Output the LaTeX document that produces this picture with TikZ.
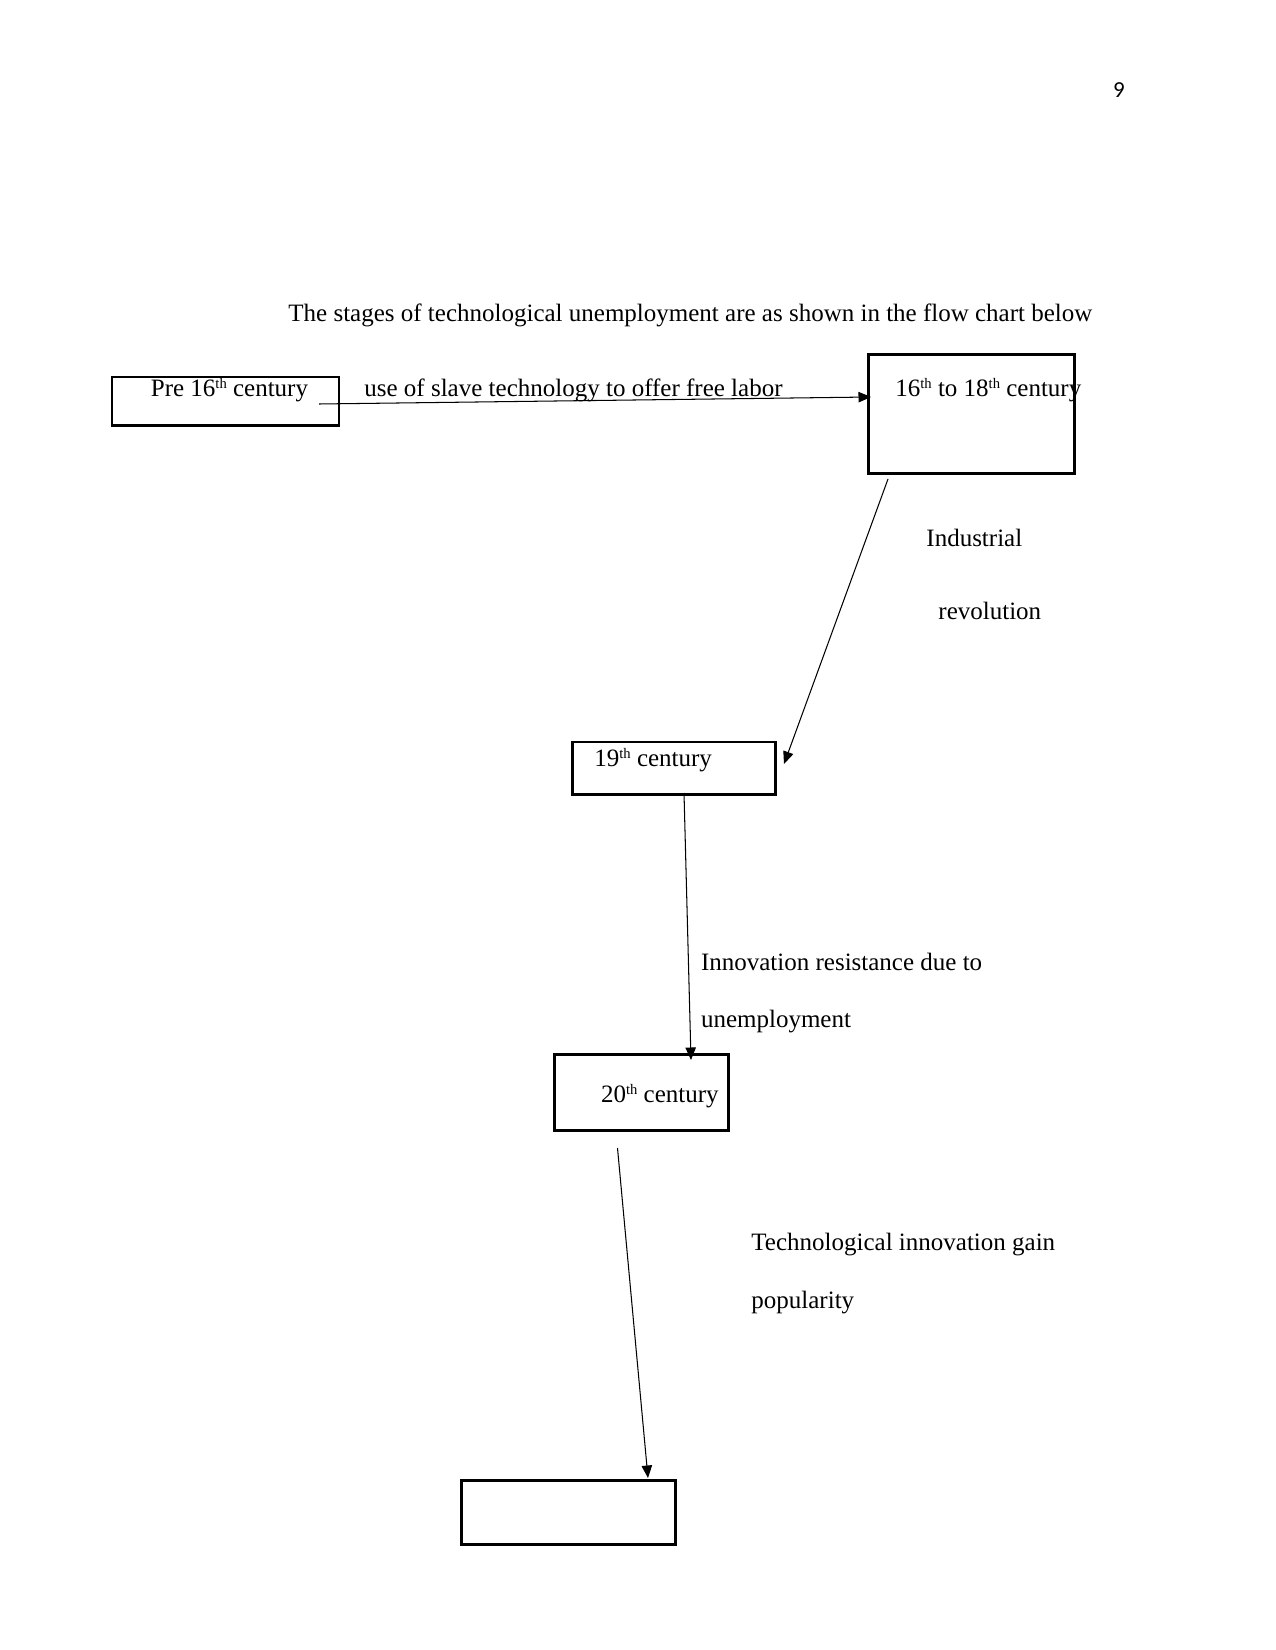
\documentclass[tikz,border=0pt]{standalone}
\usepackage{fontspec}
\setmainfont{Liberation Serif}
\newfontfamily\pgnumfont{Carlito}
\usetikzlibrary{arrows.meta}
\newcommand{\supth}{\raisebox{4pt}{\fontsize{7}{8}\selectfont th}}
\begin{document}
\begin{tikzpicture}[x=0.48pt,y=-0.48pt,
  box/.style 2 args={draw,line width=1.3pt,inner sep=0pt,anchor=north west,
    minimum width={#1*0.48pt},minimum height={#2*0.48pt}},
  lbl/.style={anchor=base west,inner sep=0pt,font=\fontsize{12}{14}\selectfont},
  conn/.style={line width=0.5pt,-{Triangle[length=6pt,width=5pt]}}]
\useasboundingbox[fill=white] (0,0) rectangle (1275,1650);
\node[inner sep=0pt,font=\pgnumfont\fontsize{11}{13}\selectfont] (pg) at (1119,90) {9};
\node[lbl] (title) at (288,321.5) {The stages of technological unemployment are as shown in the flow chart below};
% boxes
\node[box={227}{48.5}] (A) at (110.5,375.6) {};
\node[box={206}{118.5}] (B) at (867,353.5) {};
\node[box={203}{52.5}] (C) at (571,740.6) {};
\node[box={174}{76}] (D) at (553,1053) {};
\node[box={214}{64}] (E) at (460,1479) {};
% box texts
\node[lbl] (At) at (150.5,396.5) {Pre 16\supth{} century};
\node[lbl] (Bt) at (895,396.5) {16\supth{} to 18\supth{} century};
\node[lbl] (Ct) at (594,766.5) {19\supth{} century};
\node[lbl] (Dt) at (600.7,1102.5) {20\supth{} century};
% connector labels
\node[lbl] (l1) at (364,396.5) {use of slave technology to offer free labor};
\node[lbl] (l2a) at (926,546) {Industrial};
\node[lbl] (l2b) at (938,619.5) {revolution};
\node[lbl] (l3a) at (700.6,970) {Innovation resistance due to};
\node[lbl] (l3b) at (700.6,1027.5) {unemployment};
\node[lbl] (l4a) at (751,1250.5) {Technological innovation gain};
\node[lbl] (l4b) at (751,1308.5) {popularity};
% connector ends
\coordinate (a1) at (319,404);
\coordinate (b1) at (871,397);
\coordinate (b2) at (888,479);
\coordinate (c1) at (784,764);
\coordinate (c2) at (684,793);
\coordinate (d1) at (691,1060);
\coordinate (d2) at (617.5,1148);
\coordinate (e1) at (648,1478);
\draw[conn] (a1) -- (b1);
\draw[conn] (b2) -- (c1);
\draw[conn] (c2) -- (d1);
\draw[conn] (d2) -- (e1);
\end{tikzpicture}
\end{document}
